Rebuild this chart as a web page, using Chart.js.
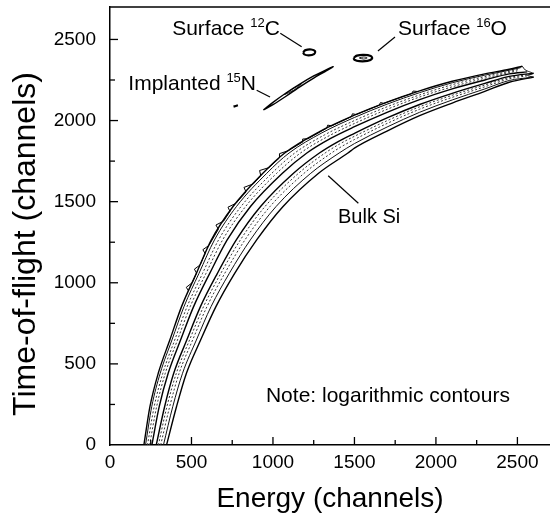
<!DOCTYPE html>
<html>
<head>
<meta charset="utf-8">
<script src="https://cdn.jsdelivr.net/npm/chart.js@4.4.0/dist/chart.umd.min.js"></script>
<style>
  html, body { margin: 0; padding: 0; background: #fff; }
  #wrap { width: 550px; height: 518px; }
</style>
</head>
<body>
<div id="wrap"><canvas id="tofChart" width="550" height="518"></canvas></div>
<script>
// axis ticks (channels)
const tickValues = [0, 500, 1000, 1500, 2000, 2500]
const minorValues = [250, 750, 1250, 1750, 2250]

// Bulk Si ridge: the steep part is read at fixed TOF levels, the flat part at fixed energies
const tofLevels = [0, 236, 442, 647, 853, 1058, 1264, 1470, 1675, 1800]
const energyLevels = [1500, 1700, 1900, 2100, 2300, 2450]

// energy of each contour at tofLevels (outer upper edge first, outer lower edge last)
const siEnergy = [
  [208, 245, 296, 367, 439, 530, 622, 755, 938, 1072],
  [218, 256, 308, 380, 454, 546, 641, 776, 962, 1099],
  [230, 271, 324, 397, 473, 568, 666, 804, 993, 1134],
  [243, 286, 339, 414, 492, 589, 691, 832, 1023, 1169],
  [257, 302, 357, 433, 513, 612, 719, 862, 1058, 1208],
  [284, 335, 391, 471, 555, 659, 775, 924, 1126, 1285],
  [297, 349, 407, 488, 574, 680, 800, 951, 1157, 1320],
  [311, 366, 424, 507, 595, 704, 828, 982, 1191, 1359],
  [328, 385, 445, 530, 620, 732, 861, 1019, 1232, 1406],
  [347, 408, 469, 556, 650, 765, 900, 1062, 1280, 1460]
]
// one point per contour on the bend between the two parts
const siBend = [[1286, 1932], [1300, 1924], [1317, 1912], [1335, 1901], [1354, 1890],
                [1392, 1866], [1410, 1856], [1430, 1845], [1453, 1830], [1480, 1815]]
// TOF of each contour at energyLevels
const siTof = [
  [2033, 2114, 2183, 2242, 2288, 2316],
  [2019, 2101, 2172, 2233, 2280, 2310],
  [2000, 2085, 2158, 2221, 2271, 2303],
  [1982, 2069, 2145, 2208, 2261, 2296],
  [1962, 2051, 2129, 2195, 2250, 2288],
  [1921, 2016, 2099, 2168, 2229, 2272],
  [1903, 1999, 2085, 2156, 2219, 2265],
  [1883, 1982, 2070, 2143, 2208, 2257],
  [1858, 1960, 2051, 2127, 2195, 2247],
  [1830, 1935, 2030, 2108, 2180, 2236]
]
// where each contour ends at the high-energy tip
const siTip = [[2530, 2335], [2520, 2326], [2510, 2316], [2500, 2306], [2560, 2300],
               [2600, 2292], [2575, 2284], [2560, 2276], [2580, 2266], [2600, 2268]]
const siTipEdge = [[2530, 2335], [2548, 2312], [2595, 2290], [2562, 2278], [2600, 2268]]
// ragged outermost contour on the low-energy side
const siRough = [[482, 950], [468, 972], [504, 1000], [531, 1060], [518, 1084], [553, 1110], [584, 1180], [570, 1204],
  [607, 1230], [665, 1330], [650, 1356], [697, 1380], [736, 1440], [724, 1466], [773, 1490], [835, 1560], [822, 1588],
  [880, 1610], [925, 1660], [918, 1692], [976, 1710], [1040, 1770], [1040, 1796], [1096, 1815], [1179, 1866],
  [1182, 1886], [1215, 1888], [1330, 1953], [1336, 1972], [1360, 1967], [1481, 2024], [1488, 2042], [1510, 2037],
  [1651, 2094], [1660, 2111], [1680, 2106], [1851, 2166], [1860, 2182], [1888, 2179]]

// small peaks (energy, tof)
const n15Streak = [[941, 2065], [1000, 2112], [1080, 2170], [1160, 2222], [1250, 2275], [1320, 2310], [1370, 2332],
                   [1320, 2302], [1250, 2262], [1160, 2205], [1080, 2150], [1000, 2098], [941, 2065]]
const n15Core = [[1070, 2160], [1120, 2195], [1175, 2226], [1125, 2186], [1070, 2160]]
const n15Speck = [[758, 2086], [785, 2094]]
const c12Blob = [[1185, 2420], [1200, 2434], [1235, 2438], [1258, 2428], [1252, 2410], [1220, 2402], [1192, 2408], [1185, 2420]]
const o16Blob = [[1495, 2386], [1515, 2400], [1555, 2405], [1600, 2398], [1608, 2382], [1580, 2368], [1530, 2366], [1500, 2375], [1495, 2386]]
const o16Core = [[1530, 2386], [1555, 2392], [1578, 2386], [1555, 2379], [1530, 2386]]

const FONT = '"Liberation Sans", Arial, Helvetica, sans-serif'
const siStyle = ['solid', 'thin', 'dot', 'dot', 'solid', 'solid', 'dot', 'dot', 'thin', 'solid']

const xy = pts => pts.map(p => ({ x: p[0], y: p[1] }))

function siPoints(i) {
  const low = tofLevels.map((t, k) => ({ x: siEnergy[i][k], y: t }))
  const high = energyLevels.map((e, k) => ({ x: e, y: siTof[i][k] }))
  return low.concat(xy([siBend[i]]), high, xy([siTip[i]]))
}

function lineSet(data, style) {
  const base = { data, showLine: true, pointRadius: 0, fill: false, tension: 0.3, borderColor: '#000', borderWidth: 1.4 }
  if (style === 'thin') { base.borderWidth = 1; base.borderColor = '#111' }
  if (style === 'dot') { base.borderWidth = 1; base.borderColor = '#333'; base.borderDash = [2, 2] }
  if (style === 'blob') { base.borderWidth = 2.2; base.tension = 0.4 }
  if (style === 'rough') { base.borderWidth = 1; base.tension = 0 }
  return base
}

const datasets = siEnergy.map((_, i) => Object.assign(lineSet(siPoints(i), siStyle[i]), { cubicInterpolationMode: 'monotone' }))
datasets.push(lineSet(xy(siRough), 'rough'))
datasets.push(lineSet(xy(siTipEdge), 'thin'))
datasets.push(lineSet(xy(n15Streak), 'solid'))
datasets.push(lineSet(xy(n15Core), 'thin'))
datasets.push(lineSet(xy(n15Speck), 'blob'))
datasets.push(lineSet(xy(c12Blob), 'blob'))
datasets.push(lineSet(xy(o16Blob), 'blob'))
datasets.push(lineSet(xy(o16Core), 'thin'))

// annotations, anchored in data coordinates
const notes = [
  { parts: [['Surface ', 21], ['12', 13, 8], ['C', 21]], at: [1043, 2527], align: 'right', line: [[1045, 2538], [1176, 2455]] },
  { parts: [['Surface ', 21], ['16', 13, 8], ['O', 21]], at: [1767, 2527], align: 'left', line: [[1644, 2429], [1749, 2515]] },
  { parts: [['Implanted ', 21], ['15', 13, 8], ['N', 21]], at: [896, 2190], align: 'right', line: [[900, 2187], [982, 2145]] },
  { parts: [['Bulk Si', 20]], at: [1399, 1368], align: 'left', line: [[1339, 1660], [1524, 1490]] },
  { parts: [['Note: logarithmic contours', 21]], at: [957, 265], align: 'left' }
]

function drawRich(ctx, parts, x, y, align) {
  let total = 0
  parts.forEach(p => { ctx.font = `${p[1]}px ${FONT}`; total += ctx.measureText(p[0]).width })
  let cx = align === 'right' ? x - total : x
  ctx.textBaseline = 'alphabetic'
  ctx.textAlign = 'left'
  parts.forEach(p => {
    ctx.font = `${p[1]}px ${FONT}`
    ctx.fillText(p[0], cx, y - (p[2] || 0))
    cx += ctx.measureText(p[0]).width
  })
}

const framePlugin = {
  id: 'frame',
  afterDraw(chart) {
    const { ctx, chartArea: a, scales: { x, y } } = chart
    ctx.save()
    ctx.strokeStyle = '#000'
    ctx.lineWidth = 1.3
    // top border
    ctx.beginPath(); ctx.moveTo(a.left, a.top); ctx.lineTo(a.right, a.top); ctx.stroke()
    // inward ticks
    const tick = (vals, len) => {
      vals.forEach(v => {
        const px = x.getPixelForValue(v)
        ctx.beginPath(); ctx.moveTo(px, a.bottom); ctx.lineTo(px, a.bottom - len); ctx.stroke()
        const py = y.getPixelForValue(v)
        ctx.beginPath(); ctx.moveTo(a.left, py); ctx.lineTo(a.left + len, py); ctx.stroke()
      })
    }
    tick(tickValues.slice(1), 8)
    tick(minorValues, 5)
    // labels and pointers
    ctx.fillStyle = '#000'
    ctx.lineWidth = 1.2
    notes.forEach(n => {
      drawRich(ctx, n.parts, x.getPixelForValue(n.at[0]), y.getPixelForValue(n.at[1]), n.align)
      if (n.line) {
        ctx.beginPath()
        ctx.moveTo(x.getPixelForValue(n.line[0][0]), y.getPixelForValue(n.line[0][1]))
        ctx.lineTo(x.getPixelForValue(n.line[1][0]), y.getPixelForValue(n.line[1][1]))
        ctx.stroke()
      }
    })
    // axis titles
    ctx.textAlign = 'center'
    ctx.textBaseline = 'middle'
    ctx.font = `28px ${FONT}`
    ctx.fillText('Energy (channels)', (a.left + a.right) / 2, 499)
    ctx.translate(26, 244)
    ctx.rotate(-Math.PI / 2)
    ctx.font = `32px ${FONT}`
    ctx.fillText('Time-of-flight (channels)', 0, 0)
    ctx.restore()
  }
}

const setTicks = s => { s.ticks = tickValues.map(v => ({ value: v })) }

new Chart(document.getElementById('tofChart'), {
  type: 'scatter',
  data: { datasets },
  options: {
    responsive: false,
    animation: false,
    devicePixelRatio: 1,
    layout: { padding: { top: 7, right: 0, left: 0, bottom: 0 } },
    plugins: { legend: { display: false }, tooltip: { enabled: false } },
    scales: {
      x: {
        type: 'linear', min: 0, max: 2700,
        afterBuildTicks: setTicks,
        afterFit: s => { s.height = 73; s.paddingLeft = 0; s.paddingRight = 0 },
        grid: { display: false, drawTicks: false },
        border: { display: true, color: '#000', width: 1.5 },
        ticks: { color: '#000', font: { family: FONT, size: 19 }, padding: 6, maxRotation: 0, callback: v => String(v) }
      },
      y: {
        type: 'linear', min: 0, max: 2700,
        afterBuildTicks: setTicks,
        afterFit: s => { s.width = 110; s.paddingTop = 0; s.paddingBottom = 0 },
        grid: { display: false, drawTicks: false },
        border: { display: true, color: '#000', width: 1.5 },
        ticks: { color: '#000', font: { family: FONT, size: 19 }, padding: 14, callback: v => String(v) }
      }
    }
  },
  plugins: [framePlugin]
})
</script>
</body>
</html>
